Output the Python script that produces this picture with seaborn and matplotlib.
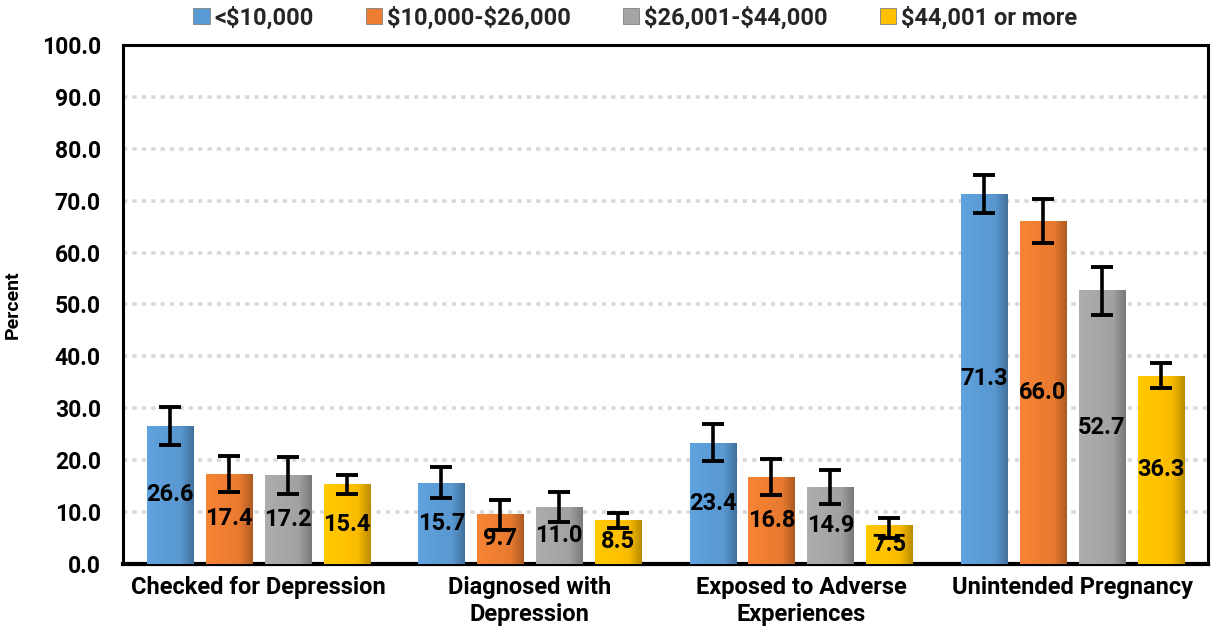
import numpy as np
import pandas as pd
import seaborn as sns
import matplotlib.pyplot as plt
from matplotlib.patches import Patch
from matplotlib.colors import to_rgb

categories = ["Checked for Depression", "Diagnosed with\nDepression",
              "Exposed to Adverse\nExperiences", "Unintended Pregnancy"]
groups = ["<$10,000", "$10,000-$26,000", "$26,001-$44,000", "$44,001 or more"]

v_lt10k = [26.6, 15.7, 23.4, 71.3]
v_10_26 = [17.4, 9.7, 16.8, 66.0]
v_26_44 = [17.2, 11.0, 14.9, 52.7]
v_44p = [15.4, 8.5, 7.5, 36.3]

lo_lt10k = [22.9, 12.7, 19.8, 67.6]
hi_lt10k = [30.3, 18.7, 26.9, 75.0]
lo_10_26 = [13.9, 6.6, 13.2, 61.8]
hi_10_26 = [20.9, 12.3, 20.2, 70.3]
lo_26_44 = [13.5, 8.0, 11.5, 48.0]
hi_26_44 = [20.7, 13.9, 18.2, 57.3]
lo_44p = [13.5, 6.9, 5.1, 33.9]
hi_44p = [17.1, 9.9, 8.8, 38.7]

colors = ["#5B9BD5", "#ED7D31", "#A5A5A5", "#FFC000"]

values = [v_lt10k, v_10_26, v_26_44, v_44p]
lows = [lo_lt10k, lo_10_26, lo_26_44, lo_44p]
highs = [hi_lt10k, hi_10_26, hi_26_44, hi_44p]

rows = []
for g, vals in zip(groups, values):
    for c, v in zip(categories, vals):
        rows.append({"category": c, "group": g, "value": v})
df = pd.DataFrame(rows)

sns.set_theme(style="white")
plt.rcParams['font.family'] = ['Roboto', 'DejaVu Sans']
plt.rcParams['font.weight'] = 'bold'

fig = plt.figure(figsize=(12.12, 6.37), dpi=100)
ax = fig.add_axes([0.1015, 0.1146, 0.895, 0.8148])

sns.barplot(data=df, x="category", y="value", hue="group", order=categories,
            hue_order=groups, palette=colors, width=0.87, gap=0.22,
            errorbar=None, ax=ax, legend=False, saturation=1,
            edgecolor="#9a9a9a", linewidth=0.6, zorder=3)

# gradient shading for a 3D look
for cont, col in zip(ax.containers, colors):
    rgb = np.array(to_rgb(col))
    grad = np.linspace(0, 1, 64)
    shade = np.where(grad < 0.7, 1.05 - 0.1 * grad, 1.0 - 0.9 * (grad - 0.7))
    img = np.clip(rgb[None, None, :] * shade[None, :, None], 0, 1)
    for p in cont.patches:
        x0, y0 = p.get_x(), p.get_y()
        w, h = p.get_width(), p.get_height()
        im = ax.imshow(img, extent=[x0, x0 + w, y0, y0 + h], aspect='auto',
                       zorder=3.5, interpolation='bilinear')
        im.set_clip_path(p)

for cont, vals, lo, hi in zip(ax.containers, values, lows, highs):
    xs = [p.get_x() + p.get_width() / 2 for p in cont.patches]
    v = np.array(vals)
    yerr = [v - np.array(lo), np.array(hi) - v]
    ax.errorbar(xs, v, yerr=yerr, fmt='none', ecolor='black', elinewidth=2.6,
                capsize=8, capthick=2.8, zorder=6)
    ax.bar_label(cont, labels=[f"{x:.1f}" for x in vals], label_type='center',
                 fontsize=17, fontweight='bold', color='black', zorder=7)

for t in ax.texts:
    t.set_zorder(7)

ax.set_ylim(0, 100)
ax.set_xlim(-0.5, 3.5)
ax.set_yticks(np.arange(0, 101, 10))
ax.set_yticklabels([f"{t:.1f}" for t in np.arange(0, 101, 10)])
ax.yaxis.grid(True, color="#D9D9D9", linewidth=2.6, linestyle=(0, (1.2, 1.4)), zorder=0)
ax.xaxis.grid(False)
ax.set_axisbelow(True)
ax.tick_params(axis='y', length=0, pad=16, labelsize=16.5)
ax.tick_params(axis='x', length=0, pad=9, labelsize=17)
for lab in ax.get_xticklabels() + ax.get_yticklabels():
    lab.set_fontweight('bold')
    lab.set_color('black')
ax.set_xlabel("")
ax.set_ylabel("Percent", fontsize=14, fontweight='bold', color='black', labelpad=14)
for s in ax.spines.values():
    s.set_visible(True)
    s.set_color('black')
    s.set_linewidth(2.2)
ax.spines['bottom'].set_linewidth(3)

legend_labels = [g.replace("$", r"\$") for g in groups]
handles = [Patch(facecolor=c, edgecolor="#7f7f7f", linewidth=0.6) for c in colors]
fig.legend(handles, legend_labels, loc='center', bbox_to_anchor=(0.524, 0.972), ncol=4,
           frameon=False, handlelength=0.7, handleheight=0.7, handletextpad=0.2,
           columnspacing=2.2, prop={'size': 17, 'weight': 'bold'})

fig.savefig("out.png", dpi=100)
